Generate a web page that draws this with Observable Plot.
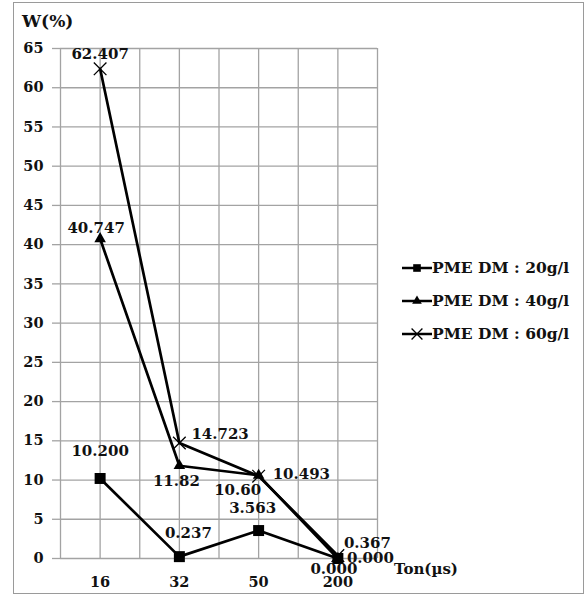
<!DOCTYPE html>
<html><head><meta charset="utf-8">
<script src="https://cdn.jsdelivr.net/npm/d3@7"></script>
<script src="https://cdn.jsdelivr.net/npm/@observablehq/plot@0.6"></script>
<style>
body{margin:0;background:#fff;}
#wrap{position:relative;width:586px;height:597px;font-family:"DejaVu Serif",serif;font-weight:bold;color:#111;}
#frame{position:absolute;left:13px;top:2px;width:571px;height:592px;border:1px solid #9a9a9a;box-sizing:border-box;pointer-events:none;}
.ttl{position:absolute;white-space:nowrap;line-height:1;}
.leg{position:absolute;left:402px;display:flex;align-items:center;font-size:15.5px;white-space:nowrap;}
.leg svg{display:block;}
#chart{position:absolute;left:0;top:0;}
</style></head>
<body><div id="wrap"><div id="chart"></div><div id="frame"></div></div>
<script>
// ---- data ----
const ton = ["16", "32", "50", "200"];
const seriesNames = ["PME DM : 20g/l", "PME DM : 40g/l", "PME DM : 60g/l"];
const w20 = [10.200, 0.237, 3.563, 0.000];
const w40 = [40.747, 11.82, 10.60, 0.000];
const w60 = [62.407, 14.723, 10.493, 0.367];
const labels20 = ["10.200", "0.237", "3.563", "0.000"];
const labels40 = ["40.747", "11.82", "10.60", "0.000"];
const labels60 = ["62.407", "14.723", "10.493", "0.367"];
const yTicks = d3.range(0, 66, 5);

// label placement (pixel offsets, anchor)
const place20 = [[0,-27,"middle"],[9,-23,"middle"],[-6,-22,"middle"],[-4,11,"middle"]];
const place40 = [[-4,-11,"middle"],[-3,15,"middle"],[-21,15,"middle"],[9,0,"start"]];
const place60 = [[0,-15,"middle"],[12,-9,"start"],[14,-2,"start"],[6,-12,"start"]];

// categories are evenly spaced: each sits in the middle of a two-cell band
const xIndex = ton.map((_, i) => 2 * i + 1);
const rows = (vals, labs, plc) => vals.map((v, i) => ({x: xIndex[i], y: v, label: labs[i], dx: plc[i][0], dy: plc[i][1], anchor: plc[i][2]}));
const d20 = rows(w20, labels20, place20);
const d40 = rows(w40, labels40, place40);
const d60 = rows(w60, labels60, place60);

const font = {fontFamily: "DejaVu Serif", fontWeight: "bold"};
const gridC = "#a3a3a3";
const labelMarks = [...d20, ...d40, ...d60].map(d =>
  Plot.text([d], {x: "x", y: "y", text: "label", dx: d.dx, dy: d.dy, textAnchor: d.anchor, fill: "#111", fontSize: 15, ...font}));

const plot = Plot.plot({
  width: 586, height: 597,
  marginLeft: 60, marginRight: 209, marginTop: 48, marginBottom: 39,
  style: {fontFamily: "DejaVu Serif", fontWeight: "bold", fontSize: "14.5px", background: "transparent", color: "#111"},
  x: {type: "linear", domain: [0, 2 * ton.length], axis: null},
  y: {domain: [0, 65], axis: null},
  marks: [
    Plot.ruleX(d3.range(0, 2 * ton.length + 1), {stroke: gridC, strokeWidth: 1.3}),
    Plot.ruleY(yTicks, {stroke: gridC, strokeWidth: 1.3}),
    Plot.axisY({ticks: yTicks, tickSize: 8, tickPadding: 9, stroke: gridC, strokeWidth: 1.3, fill: "#111", label: null, fontSize: 14.5}),
    Plot.axisX({ticks: xIndex, tickFormat: i => ton[(i - 1) / 2], tickSize: 0, tickPadding: 18, fill: "#111", label: null, fontSize: 14.5}),
    Plot.line(d20, {x: "x", y: "y", stroke: "#000", strokeWidth: 2.7}),
    Plot.line(d40, {x: "x", y: "y", stroke: "#000", strokeWidth: 2.7}),
    Plot.line(d60, {x: "x", y: "y", stroke: "#000", strokeWidth: 2.7}),
    Plot.dot(d20, {x: "x", y: "y", symbol: "square", r: 6.2, fill: "#000"}),
    Plot.dot(d40, {x: "x", y: "y", symbol: "triangle", r: 4.3, fill: "#000"}),
    Plot.dot(d60, {x: "x", y: "y", symbol: "times", r: 5.8, stroke: "#000", strokeWidth: 1.3}),
    ...labelMarks
  ]
});
document.getElementById("chart").appendChild(plot);

const wrap = document.getElementById("wrap");
function addText(txt, left, top, size) {
  const el = document.createElement("div");
  el.className = "ttl"; el.textContent = txt;
  el.style.left = left + "px"; el.style.top = top + "px"; el.style.fontSize = size + "px";
  wrap.appendChild(el);
}
addText("W(%)", 22, 13, 17);
addText("Ton(µs)", 394, 562, 15);

// legend
const symbols = [d3.symbolSquare, d3.symbolTriangle, d3.symbolTimes];
const symSize = [Math.PI * 4.3 * 4.3, Math.PI * 3.6 * 3.6, Math.PI * 5 * 5];
const legendTop = [258, 291, 324];
seriesNames.forEach((name, i) => {
  const row = document.createElement("div");
  row.className = "leg"; row.style.top = legendTop[i] + "px";
  const svg = d3.create("svg").attr("width", 30).attr("height", 18);
  svg.append("line").attr("x1", 0).attr("x2", 30).attr("y1", 9).attr("y2", 9).attr("stroke", "#000").attr("stroke-width", 2.5);
  const p = svg.append("path").attr("transform", "translate(15,9)").attr("d", d3.symbol(symbols[i], symSize[i])());
  if (i === 2) p.attr("fill", "none").attr("stroke", "#000").attr("stroke-width", 1.3); else p.attr("fill", "#000");
  row.appendChild(svg.node());
  const t = document.createElement("span"); t.textContent = name;
  row.appendChild(t);
  wrap.appendChild(row);
});
</script>
</body></html>
